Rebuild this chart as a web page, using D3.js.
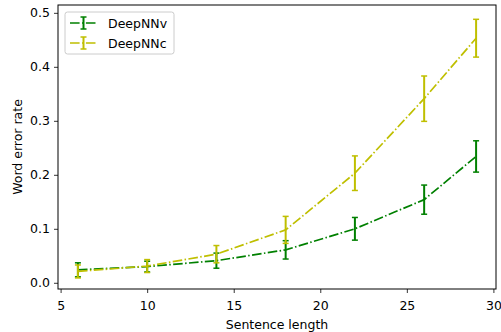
<!DOCTYPE html>
<html>
<head>
<meta charset="utf-8">
<script src="https://cdn.jsdelivr.net/npm/d3@7"></script>
<style>
  body { margin: 0; background: #fff; }
  svg { font-family: "DejaVu Sans", sans-serif; }
</style>
</head>
<body>
<div id="chart"></div>
<script>
// sentence lengths
const lengths = [6, 10, 14, 18, 22, 26, 29]
// word error rates and error bar half widths
const deepNNv = [0.024, 0.030, 0.041, 0.061, 0.100, 0.154, 0.234]
const deepNNvErr = [0.013, 0.010, 0.014, 0.017, 0.021, 0.027, 0.029]
const deepNNc = [0.021, 0.031, 0.053, 0.098, 0.203, 0.341, 0.453]
const deepNNcErr = [0.012, 0.012, 0.016, 0.025, 0.032, 0.042, 0.035]
const xTicks = [5, 10, 15, 20, 25, 30]
const yTicks = [0.0, 0.1, 0.2, 0.3, 0.4, 0.5]

const series = [
  {name: 'DeepNNv', color: '#008000', vals: deepNNv, err: deepNNvErr},
  {name: 'DeepNNc', color: '#bfbf00', vals: deepNNc, err: deepNNcErr}
]

const W = 501, H = 332
const margin = {top: 5, right: 5, bottom: 43, left: 58}
const width = W - margin.left - margin.right
const height = H - margin.top - margin.bottom
const fs = 12.5

const svg = d3.select('#chart').append('svg')
  .attr('width', W).attr('height', H)
const g = svg.append('g')
  .attr('transform', `translate(${margin.left},${margin.top})`)

const x = d3.scaleLinear().domain([4.85, 30.15]).range([0, width])
const y = d3.scaleLinear().domain([-0.0115, 0.5145]).range([height, 0])

// axes
const xAxis = g.append('g')
  .attr('transform', `translate(0,${height})`)
  .call(d3.axisBottom(x).tickValues(xTicks).tickFormat(d3.format('d')).tickSize(4).tickPadding(8))
const yAxis = g.append('g')
  .call(d3.axisLeft(y).tickValues(yTicks).tickFormat(d3.format('.1f')).tickSize(4).tickPadding(4))
for (const ax of [xAxis, yAxis]) {
  ax.select('.domain').remove()
  ax.selectAll('text').attr('font-size', fs).attr('fill', '#000').attr('font-family', '"DejaVu Sans", sans-serif')
  ax.selectAll('line').attr('stroke', '#000').attr('stroke-width', 0.8)
}

g.append('rect')
  .attr('width', width).attr('height', height)
  .attr('fill', 'none').attr('stroke', '#000').attr('stroke-width', 1)

const line = d3.line().x(d => x(d[0])).y(d => y(d[1]))

series.forEach(s => {
  const pts = lengths.map((l, i) => [l, s.vals[i], s.err[i]])
  const sg = g.append('g')
  sg.append('path')
    .datum(pts)
    .attr('d', line)
    .attr('fill', 'none')
    .attr('stroke', s.color)
    .attr('stroke-width', 1.7)
    .attr('stroke-dasharray', '9.6,2.4,1.5,2.4')
  const eb = sg.selectAll('.eb').data(pts).enter().append('g')
  eb.append('line')
    .attr('x1', d => x(d[0])).attr('x2', d => x(d[0]))
    .attr('y1', d => y(d[1] - d[2])).attr('y2', d => y(d[1] + d[2]))
    .attr('stroke', s.color).attr('stroke-width', 2)
  for (const sign of [-1, 1]) {
    eb.append('line')
      .attr('x1', d => x(d[0]) - 3).attr('x2', d => x(d[0]) + 3)
      .attr('y1', d => y(d[1] + sign * d[2])).attr('y2', d => y(d[1] + sign * d[2]))
      .attr('stroke', s.color).attr('stroke-width', 1.5)
  }
})

// axis labels
svg.append('text')
  .attr('x', margin.left + width / 2).attr('y', 329)
  .attr('text-anchor', 'middle').attr('font-size', fs)
  .text('Sentence length')
svg.append('text')
  .attr('transform', `translate(22,${margin.top + height / 2}) rotate(-90)`)
  .attr('text-anchor', 'middle').attr('font-size', fs)
  .text('Word error rate')

// legend
const lg = g.append('g').attr('transform', 'translate(7,7)')
lg.append('rect')
  .attr('width', 109).attr('height', 42).attr('rx', 2.5)
  .attr('fill', '#fff').attr('fill-opacity', 0.8)
  .attr('stroke', '#ccc').attr('stroke-width', 1)
series.forEach((s, i) => {
  const row = lg.append('g').attr('transform', `translate(5,${11 + i * 20})`)
  row.append('line')
    .attr('x1', 0).attr('x2', 27).attr('y1', 0).attr('y2', 0)
    .attr('stroke', s.color).attr('stroke-width', 1.7)
    .attr('stroke-dasharray', '9.6,2.4,1.5,2.4')
  row.append('line')
    .attr('x1', 13.5).attr('x2', 13.5).attr('y1', -6).attr('y2', 6)
    .attr('stroke', s.color).attr('stroke-width', 2)
  for (const yy of [-6, 6]) {
    row.append('line')
      .attr('x1', 10.5).attr('x2', 16.5).attr('y1', yy).attr('y2', yy)
      .attr('stroke', s.color).attr('stroke-width', 1.5)
  }
  row.append('text')
    .attr('x', 38).attr('y', 4.5).attr('font-size', fs)
    .text(s.name)
})
</script>
</body>
</html>
